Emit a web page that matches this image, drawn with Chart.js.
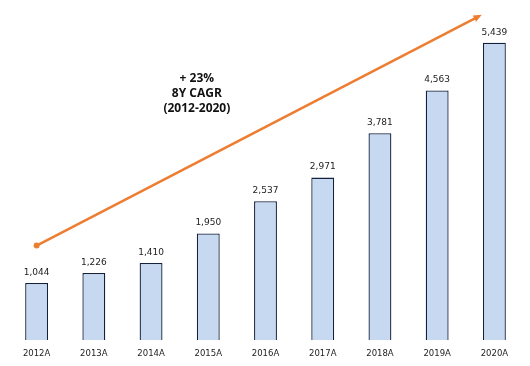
<!DOCTYPE html>
<html>
<head>
<meta charset="utf-8">
<script src="https://cdn.jsdelivr.net/npm/chart.js@4"></script>
<style>
    html, body { margin: 0; padding: 0; background: #ffffff; }
    #wrap { width: 530px; height: 366px; }
</style>
</head>
<body>
<div id="wrap"><canvas id="myChart" width="530" height="366"></canvas></div>
<script>
const years = ['2012A', '2013A', '2014A', '2015A', '2016A', '2017A', '2018A', '2019A', '2020A'];
const revenue = [1044, 1226, 1410, 1950, 2537, 2971, 3781, 4563, 5439];
const cagrText = ['+ 23%', '8Y CAGR', '(2012-2020)'];
// arrow from / to, as [category index, value]
const arrowFrom = [0, 1727];
const arrowTo = [7.78, 5950];

const labelsPlugin =
{
    id: 'barLabels',
    afterDatasetsDraw(chart)
    {
        const ctx = chart.ctx;
        const meta = chart.getDatasetMeta(0);
        ctx.save();
        ctx.font = '9px "DejaVu Sans"';
        ctx.fillStyle = '#222222';
        ctx.textAlign = 'center';
        ctx.textBaseline = 'bottom';
        for (let i = 0; i < meta.data.length; i++)
        {
            const bar = meta.data[i];
            ctx.fillText(revenue[i].toLocaleString('en-US'), bar.x, bar.y - 6);
        }
        ctx.restore();
    }
};

const arrowPlugin =
{
    id: 'cagrArrow',
    afterDraw(chart)
    {
        const ctx = chart.ctx;
        const xs = chart.scales.x;
        const ys = chart.scales.y;
        const x1 = xs.getPixelForValue(arrowFrom[0]);
        const y1 = ys.getPixelForValue(arrowFrom[1]);
        const x2 = xs.getPixelForValue(arrowTo[0]);
        const y2 = ys.getPixelForValue(arrowTo[1]);
        const ang = Math.atan2(y2 - y1, x2 - x1);
        const head = 9;

        ctx.save();
        ctx.strokeStyle = '#ED7D31';
        ctx.fillStyle = '#ED7D31';
        ctx.lineWidth = 2.5;
        ctx.beginPath();
        ctx.moveTo(x1, y1);
        ctx.lineTo(x2 - Math.cos(ang) * head * 0.8, y2 - Math.sin(ang) * head * 0.8);
        ctx.stroke();

        ctx.beginPath();
        ctx.arc(x1, y1, 3, 0, Math.PI * 2);
        ctx.fill();

        ctx.beginPath();
        ctx.moveTo(x2, y2);
        ctx.lineTo(x2 - head * Math.cos(ang - 0.4), y2 - head * Math.sin(ang - 0.4));
        ctx.lineTo(x2 - head * Math.cos(ang + 0.4), y2 - head * Math.sin(ang + 0.4));
        ctx.closePath();
        ctx.fill();

        // CAGR text
        ctx.font = 'bold 12px "Open Sans"';
        ctx.fillStyle = '#111111';
        ctx.textAlign = 'center';
        ctx.textBaseline = 'middle';
        const tx = xs.getPixelForValue(2.8);
        for (let i = 0; i < cagrText.length; i++)
        {
            ctx.fillText(cagrText[i], tx, 79 + i * 15);
        }
        ctx.restore();
    }
};

const ctx = document.getElementById('myChart');

new Chart(ctx,
{
    type: 'bar',
    data:
    {
        labels: years,
        datasets:
        [
            {
                data: revenue,
                backgroundColor: '#C6D9F1',
                borderColor: '#14213D',
                borderWidth: 1.3,
                barPercentage: 0.4,
                categoryPercentage: 1.0
            }
        ]
    },
    plugins: [labelsPlugin, arrowPlugin],
    options:
    {
        responsive: false,
        animation: false,
        events: [],
        layout:
        {
            padding: { left: 8, right: 7, top: 12, bottom: 0 }
        },
        plugins:
        {
            legend: { display: false },
            tooltip: { enabled: false }
        },
        scales:
        {
            x:
            {
                grid: { display: false, drawTicks: false },
                border: { display: false },
                afterFit(scale)
                {
                    scale.height = 26;
                },
                ticks:
                {
                    color: '#222222',
                    padding: 9,
                    maxRotation: 0,
                    font: { family: 'DejaVu Sans', size: 8.5 }
                }
            },
            y:
            {
                display: false,
                beginAtZero: true,
                min: 0,
                max: 6000
            }
        }
    }
});
</script>
</body>
</html>
